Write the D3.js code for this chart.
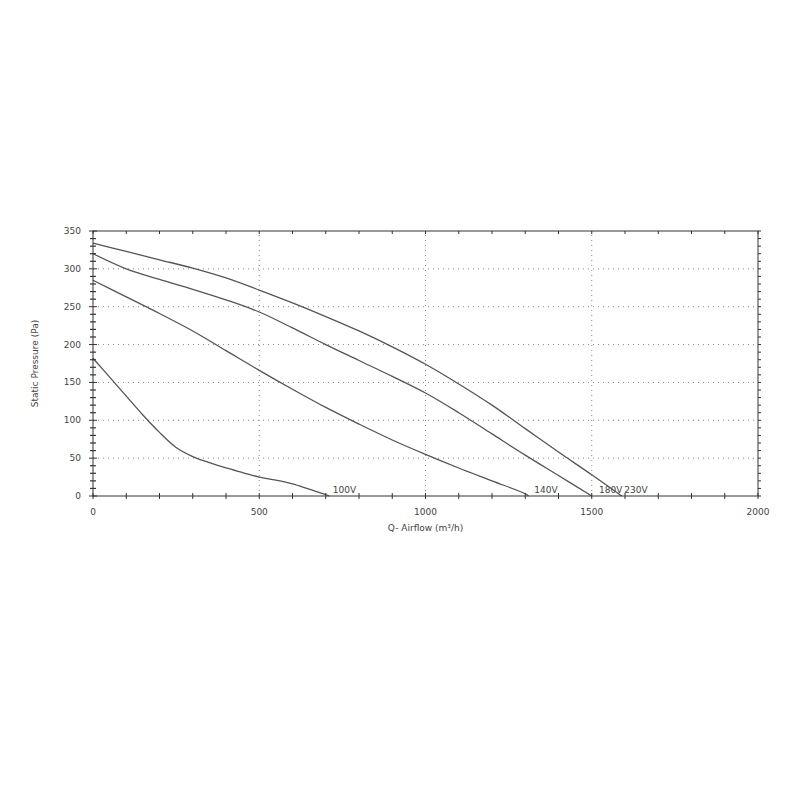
<!DOCTYPE html>
<html><head><meta charset="utf-8">
<script src="https://cdn.jsdelivr.net/npm/d3@7"></script>
<style>body{margin:0;background:#fff}svg{display:block}text{font-family:"DejaVu Sans",sans-serif;fill:#444}</style>
</head><body><svg id="c" width="800" height="800"></svg>
<script>
const xTicks = [0, 500, 1000, 1500, 2000];
const yTicks = [0, 50, 100, 150, 200, 250, 300, 350];
const seriesNames = ["100V", "140V", "180V", "230V"];
const v100 = [[0,182],[50,157],[100,132],[150,107],[200,84],[250,64],[300,52],[350,44],[400,37],[450,31],[500,25],[550,21],[600,16],[650,9],[700,2],[710,0]];
const v140 = [[0,285],[100,263],[200,241],[300,218],[400,192],[500,166],[600,141],[700,117],[800,95],[900,74],[1000,55],[1100,37],[1200,20],[1300,3],[1310,0]];
const v180 = [[0,320],[100,300],[200,286],[300,273],[400,259],[500,243],[600,222],[700,200],[800,179],[900,158],[1000,136],[1100,110],[1200,82],[1300,54],[1400,27],[1500,0]];
const v230 = [[0,334],[100,323],[200,312],[300,301],[400,288],[500,272],[600,255],[700,237],[800,218],[900,197],[1000,174],[1100,148],[1200,120],[1300,89],[1400,58],[1500,28],[1590,0]];
const series = [v100, v140, v180, v230];
const labelX = [721, 1327, 1522, 1598];

const svg = d3.select("#c");
const x = d3.scaleLinear().domain([0,2000]).range([93,758]);
const y = d3.scaleLinear().domain([0,350]).range([496,231]);
const g = svg.append("g");

// grid
g.selectAll(".gx").data(xTicks.filter(d=>d>0&&d<2000)).enter().append("line")
 .attr("x1",d=>x(d)).attr("x2",d=>x(d)).attr("y1",y(0)).attr("y2",y(350))
 .attr("stroke","#888").attr("stroke-dasharray","1,4");
g.selectAll(".gy").data(yTicks.filter(d=>d>0&&d<350)).enter().append("line")
 .attr("x1",x(0)).attr("x2",x(2000)).attr("y1",d=>y(d)).attr("y2",d=>y(d))
 .attr("stroke","#888").attr("stroke-dasharray","1,4");

// curves
const line = d3.line().x(d=>x(d[0])).y(d=>y(d[1])).curve(d3.curveCatmullRom.alpha(0.5));
series.forEach((s,i)=>{
  g.append("path").attr("d",line(s)).attr("fill","none").attr("stroke","#555").attr("stroke-width",1.3);
  g.append("text").attr("x",x(labelX[i])).attr("y",y(0)-3).attr("font-size",9).text(seriesNames[i]);
});

// frame
const ax = "#333";
g.append("rect").attr("x",x(0)).attr("y",y(350)).attr("width",x(2000)-x(0)).attr("height",y(0)-y(350))
 .attr("fill","none").attr("stroke",ax).attr("stroke-width",1);

// minor ticks
const yMinor = d3.range(0,351,10);
const xMinor = d3.range(0,2001,100);
g.selectAll(".yl").data(yMinor).enter().append("line")
 .attr("x1",d=>x(0)-(d%50===0?4:3)).attr("x2",d=>x(0)+(d%50===0?4:3))
 .attr("y1",d=>y(d)).attr("y2",d=>y(d)).attr("stroke",ax).attr("stroke-width",d=>d%50===0?1:1.2);
g.selectAll(".yr").data(yMinor).enter().append("line")
 .attr("x1",x(2000)).attr("x2",x(2000)+3)
 .attr("y1",d=>y(d)).attr("y2",d=>y(d)).attr("stroke",ax);
g.selectAll(".xb").data(xMinor).enter().append("line")
 .attr("x1",d=>x(d)).attr("x2",d=>x(d)).attr("y1",y(0)-3).attr("y2",y(0)+3).attr("stroke",ax);
g.selectAll(".xt").data(xMinor).enter().append("line")
 .attr("x1",d=>x(d)).attr("x2",d=>x(d)).attr("y1",y(350)).attr("y2",y(350)+3).attr("stroke",ax);

// tick labels
g.selectAll(".ylab").data(yTicks).enter().append("text")
 .attr("x",x(0)-12).attr("y",d=>y(d)+3).attr("text-anchor","end").attr("font-size",9).text(d=>d);
g.selectAll(".xlab").data(xTicks).enter().append("text")
 .attr("x",d=>x(d)).attr("y",y(0)+19).attr("text-anchor","middle").attr("font-size",9).text(d=>d);

// axis titles
g.append("text").attr("transform",`translate(38,${(y(0)+y(350))/2}) rotate(-90)`)
 .attr("text-anchor","middle").attr("font-size",9).text("Static Pressure (Pa)");
g.append("text").attr("x",(x(0)+x(2000))/2).attr("y",y(0)+35).attr("text-anchor","middle")
 .attr("font-size",9).text("Q- Airflow (m³/h)");
</script></body></html>
